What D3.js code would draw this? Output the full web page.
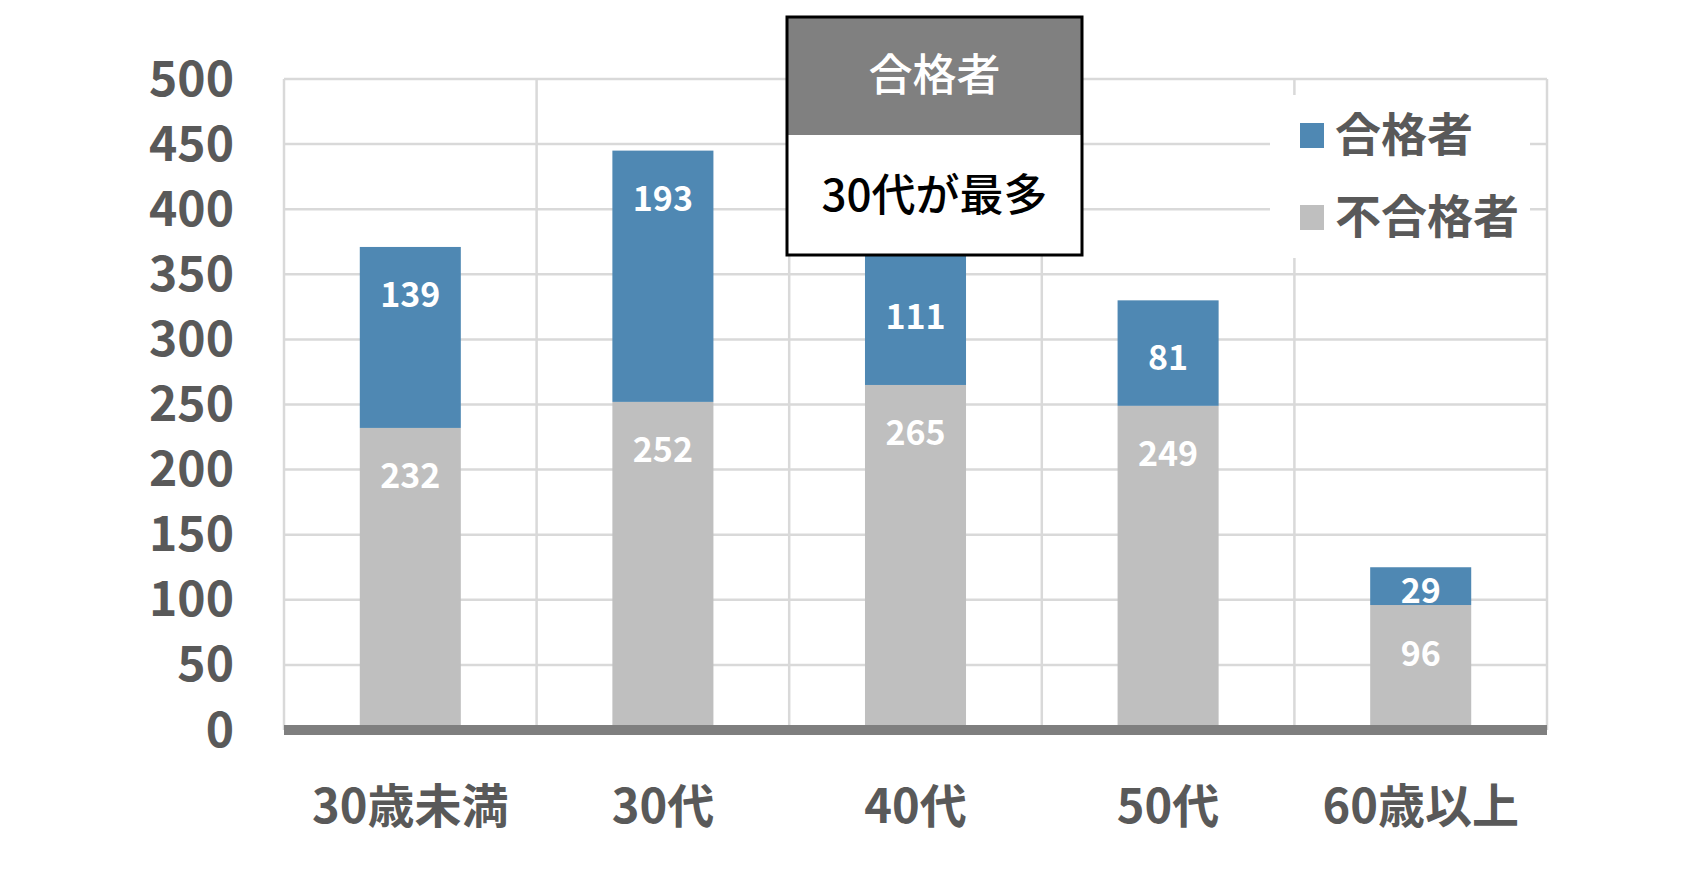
<!DOCTYPE html>
<html>
<head>
<meta charset="utf-8">
<script src="https://cdn.jsdelivr.net/npm/d3@7"></script>
<style>
  body { margin: 0; background: #fff; }
  text { font-family: "Noto Sans CJK JP", "Noto Sans", sans-serif; }
</style>
</head>
<body>
<svg id="chart" width="1694" height="887"></svg>
<script>
// 年代別 合格者・不合格者
var categories = ["30歳未満", "30代", "40代", "50代", "60歳以上"];
var passed = [139, 193, 111, 81, 29];
var failed = [232, 252, 265, 249, 96];
var yTicks = [0, 50, 100, 150, 200, 250, 300, 350, 400, 450, 500];
// where each value label sits in its segment: "end" = near top, "mid" = centred
var passedLabelAt = ["end", "end", "mid", "mid", "mid"];
var failedLabelAt = ["end", "end", "end", "end", "end"];

var colPass = "#4f88b3", colFail = "#bfbfbf", colText = "#595959";

var svg = d3.select("#chart");
var margin = {left: 284, right: 147, top: 79, bottom: 157};
var W = 1694, H = 887;

var x = d3.scaleBand()
    .domain(categories)
    .range([margin.left, W - margin.right]);

var y = d3.scaleLinear()
    .domain([0, 500])
    .range([H - margin.bottom, margin.top]);

var barW = x.bandwidth() * 0.4;

// grid
var grid = svg.append("g");
grid.selectAll(".hgrid")
    .data(yTicks.slice(1))
    .enter().append("line")
    .attr("x1", x.range()[0]).attr("x2", x.range()[1])
    .attr("y1", function(d) { return y(d); })
    .attr("y2", function(d) { return y(d); })
    .attr("stroke", "#d9d9d9").attr("stroke-width", 2.5);

grid.selectAll(".vgrid")
    .data(categories.concat([null]))
    .enter().append("line")
    .attr("x1", function(d, i) { return x.range()[0] + i * x.step(); })
    .attr("x2", function(d, i) { return x.range()[0] + i * x.step(); })
    .attr("y1", y(500)).attr("y2", y(0))
    .attr("stroke", "#d9d9d9").attr("stroke-width", 2.5);

// bars
var rows = categories.map(function(c, i) {
    return {cat: c, fail: failed[i], pass: passed[i], i: i};
});

var bars = svg.append("g");
bars.selectAll(".fail")
    .data(rows)
    .enter().append("rect")
    .attr("x", function(d) { return x(d.cat) + (x.bandwidth() - barW) / 2; })
    .attr("width", barW)
    .attr("y", function(d) { return y(d.fail); })
    .attr("height", function(d) { return y(0) - y(d.fail); })
    .attr("fill", colFail);

bars.selectAll(".pass")
    .data(rows)
    .enter().append("rect")
    .attr("x", function(d) { return x(d.cat) + (x.bandwidth() - barW) / 2; })
    .attr("width", barW)
    .attr("y", function(d) { return y(d.fail + d.pass); })
    .attr("height", function(d) { return y(d.fail) - y(d.fail + d.pass); })
    .attr("fill", colPass);

// zero axis
svg.append("line")
    .attr("x1", x.range()[0]).attr("x2", x.range()[1])
    .attr("y1", y(0)).attr("y2", y(0))
    .attr("stroke", "#7f7f7f").attr("stroke-width", 10);

// value labels
function labelY(lo, hi, at) {
    if (at === "mid") return (y(lo) + y(hi)) / 2 + 2;
    return y(hi) + 46;
}

var labels = svg.append("g")
    .attr("fill", "#fff")
    .attr("font-size", 34)
    .attr("font-weight", "bold")
    .attr("text-anchor", "middle")
    .attr("dominant-baseline", "central");

labels.selectAll(".lf")
    .data(rows)
    .enter().append("text")
    .attr("x", function(d) { return x(d.cat) + x.bandwidth() / 2; })
    .attr("y", function(d) { return labelY(0, d.fail, failedLabelAt[d.i]); })
    .text(function(d) { return d.fail; });

labels.selectAll(".lp")
    .data(rows)
    .enter().append("text")
    .attr("x", function(d) { return x(d.cat) + x.bandwidth() / 2; })
    .attr("y", function(d) { return labelY(d.fail, d.fail + d.pass, passedLabelAt[d.i]); })
    .text(function(d) { return d.pass; });

// y axis
var yAxis = svg.append("g")
    .attr("transform", "translate(" + (margin.left - 50) + ",-5)")
    .call(d3.axisLeft(y).tickValues(yTicks).tickSize(0).tickPadding(0));
yAxis.select(".domain").remove();
yAxis.selectAll("text")
    .attr("fill", colText)
    .attr("font-size", 48)
    .attr("font-weight", "bold")
    .attr("font-family", "'Noto Sans CJK JP', sans-serif")
    .attr("dy", null)
    .attr("dominant-baseline", "central");

// x axis
var xAxis = svg.append("g")
    .attr("transform", "translate(0," + (y(0) + 72) + ")")
    .call(d3.axisBottom(x).tickSize(0).tickPadding(0));
xAxis.select(".domain").remove();
xAxis.selectAll("text")
    .attr("fill", colText)
    .attr("font-size", 47)
    .attr("font-weight", "bold")
    .attr("font-family", "'Noto Sans CJK JP', sans-serif")
    .attr("dy", null)
    .attr("dominant-baseline", "central");

// legend
var legend = svg.append("g");
legend.append("rect")
    .attr("x", 1270).attr("y", 95).attr("width", 260).attr("height", 163)
    .attr("fill", "#fff");
var legendItems = [{name: "合格者", color: colPass}, {name: "不合格者", color: colFail}];
var li = legend.selectAll(".li")
    .data(legendItems)
    .enter().append("g")
    .attr("transform", function(d, i) { return "translate(1300," + (135 + i * 82) + ")"; });
li.append("rect")
    .attr("x", 0).attr("y", -12).attr("width", 24).attr("height", 25)
    .attr("fill", function(d) { return d.color; });
li.append("text")
    .attr("x", 35).attr("y", -4)
    .attr("dominant-baseline", "central")
    .attr("font-size", 46)
    .attr("font-weight", "bold")
    .attr("fill", colText)
    .text(function(d) { return d.name; });

// annotation box
var note = svg.append("g");
note.append("rect")
    .attr("x", 787).attr("y", 17).attr("width", 295).attr("height", 238)
    .attr("fill", "#fff");
note.append("rect")
    .attr("x", 787).attr("y", 17).attr("width", 295).attr("height", 118)
    .attr("fill", "#808080");
note.append("rect")
    .attr("x", 787).attr("y", 17).attr("width", 295).attr("height", 238)
    .attr("fill", "none").attr("stroke", "#000").attr("stroke-width", 3);
note.append("text")
    .attr("x", 934.5).attr("y", 72)
    .attr("text-anchor", "middle").attr("dominant-baseline", "central")
    .attr("font-size", 44).attr("fill", "#fff").attr("font-weight", 500)
    .text("合格者");
note.append("text")
    .attr("x", 934.5).attr("y", 192)
    .attr("text-anchor", "middle").attr("dominant-baseline", "central")
    .attr("font-size", 44).attr("fill", "#000").attr("font-weight", 500)
    .text("30代が最多");
</script>
</body>
</html>
